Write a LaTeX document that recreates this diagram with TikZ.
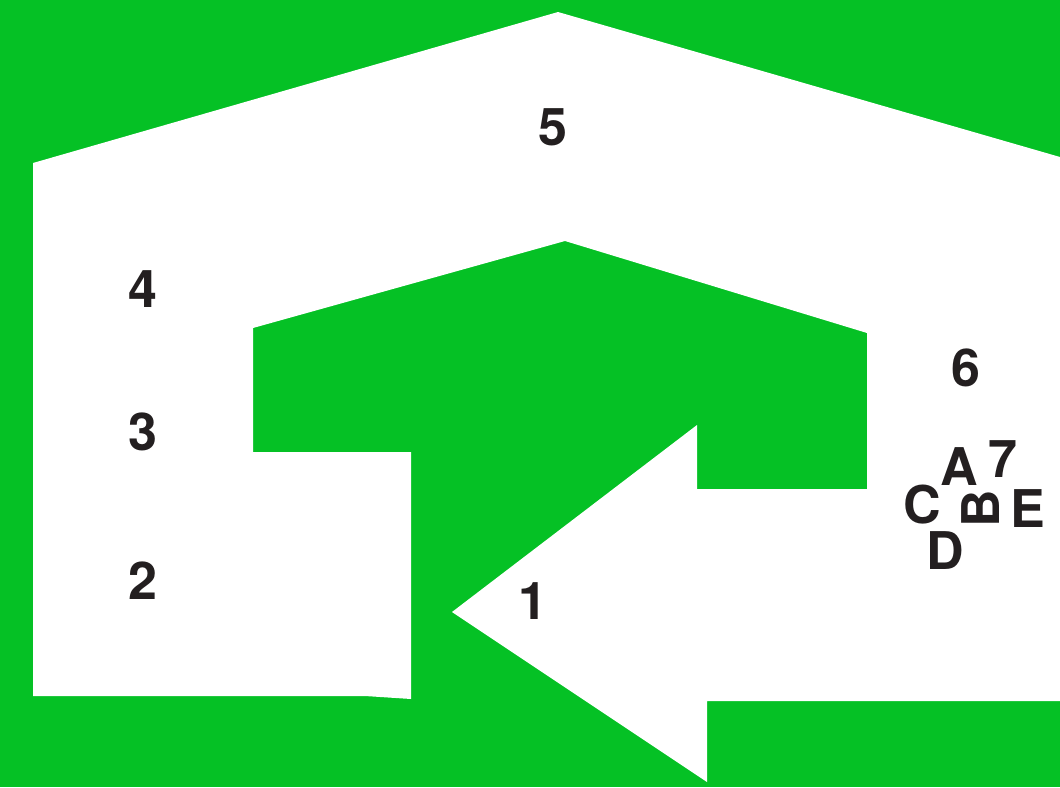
\documentclass[tikz,border=0pt]{standalone}
\usepackage{fontspec}
\setmainfont{TeX Gyre Heros}
\definecolor{bggreen}{RGB}{5,193,37}
\definecolor{txt}{RGB}{35,31,32}
\begin{document}
\begin{tikzpicture}[x=1pt,y=-1pt,
  lbl/.style={text=txt,font=\fontsize{52}{52}\selectfont\bfseries,inner sep=0pt,anchor=center}]
\useasboundingbox (0,0) rectangle (1060,787);
\fill[bggreen] (0,0) rectangle (1060,787);
\fill[white] (33,163) -- (558,12) -- (1060,157) -- (1060,701) -- (707,701) -- (707,782)
  -- (452,612) -- (697,425) -- (697,489) -- (867,489) -- (867,333) -- (565,241)
  -- (253,328) -- (253,452) -- (411,452) -- (411,699) -- (365,696) -- (33,696) -- cycle;
\node[lbl] (n5) at (553,127) {5};
\node[lbl] (n4) at (143,289) {4};
\node[lbl] (n3) at (143,432) {3};
\node[lbl] (n2) at (143,581) {2};
\node[lbl] (n1) at (533,601) {1};
\node[lbl] (n6) at (966,368) {6};
\node[lbl] (n7) at (1003,459) {7};
\node[lbl] (nA) at (959,467) {A};
\node[lbl] (nC) at (922,505) {C};
\node[lbl,rotate=90] (nB) at (981,509) {B};
\node[lbl] (nE) at (1028,509) {E};
\node[lbl] (nD) at (945,551) {D};
\end{tikzpicture}
\end{document}
